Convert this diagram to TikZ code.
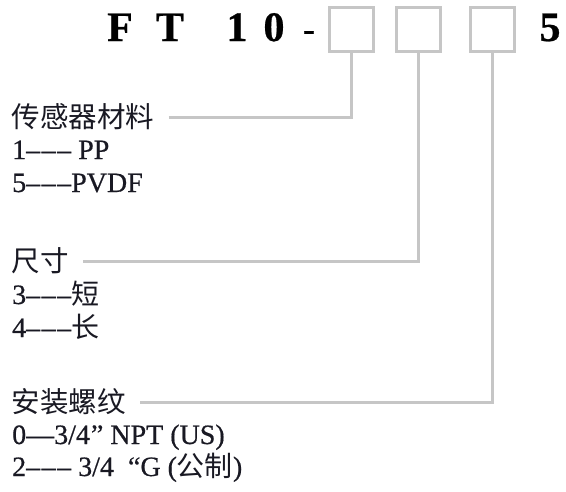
\documentclass[tikz,border=0pt]{standalone}
\usepackage{fontspec}
\setmainfont{Liberation Serif}[FakeBold=0.6]
\newfontfamily\cjk{Noto Sans CJK SC}
\usepackage{xcolor}
\definecolor{boxgray}{RGB}{198,198,198}
\definecolor{txt}{RGB}{25,25,35}

\newcommand{\tridash}{\textendash\kern1.5pt\textendash\kern1.5pt\textendash}

\tikzset{
    codechar/.style={anchor=base, inner sep=0pt, font=\fontsize{42}{42}\selectfont\bfseries, text=black},
    slotbox/.style={draw=boxgray, line width=3pt, minimum width=44pt, minimum height=44pt, inner sep=0pt},
    heading/.style={anchor=west, inner sep=0pt, outer xsep=14pt, font=\fontsize{28.5}{28.5}\selectfont\cjk, text=txt},
    option/.style={anchor=base west, inner sep=0pt, font=\fontsize{28}{28}\selectfont, text=txt},
    leader/.style={draw=boxgray, line width=3pt}
}

\begin{document}
\begin{tikzpicture}[x=1pt, y=-1pt]
    \useasboundingbox (0,0) rectangle (566,491);

    % model code
    \foreach \c/\x in {F/120, T/170, 1/237, 0/274}
        \node[codechar] (c\c) at (\x,41) {\c};
    \node[codechar, font=\fontsize{36}{36}\selectfont] (dash) at (309,41) {-};
    \node[codechar] (cfive) at (550,41) {5};

    \node[slotbox] (b1) at (351,29) {};
    \node[slotbox] (b2) at (418,29) {};
    \node[slotbox] (b3) at (492,29) {};

    % sensor material
    \node[heading] (mat) at (-2,117) {传感器材料};
    \node[option] (pp) at (12,159) {1\tridash\ PP};
    \node[option] (pvdf) at (12,192) {5\tridash PVDF};

    % size
    \node[heading] (size) at (-2,261) {尺寸};
    \node[option] (short) at (12,304) {3\tridash{\cjk 短}};
    \node[option] (long) at (12,337) {4\tridash{\cjk 长}};

    % thread
    \node[heading] (thread) at (-2,402) {安装螺纹};
    \node[option] (npt) at (12,444) {0\textemdash3/4\kern1pt”\ NPT (US)};
    \node[option] (gthr) at (12,476) {2\tridash\ 3/4\ \ “G ({\cjk 公制})};

    \draw[leader] (mat.east) -| (b1.south);
    \draw[leader] (size.east) -| (b2.south);
    \draw[leader] (thread.east) -| (b3.south);
\end{tikzpicture}
\end{document}
